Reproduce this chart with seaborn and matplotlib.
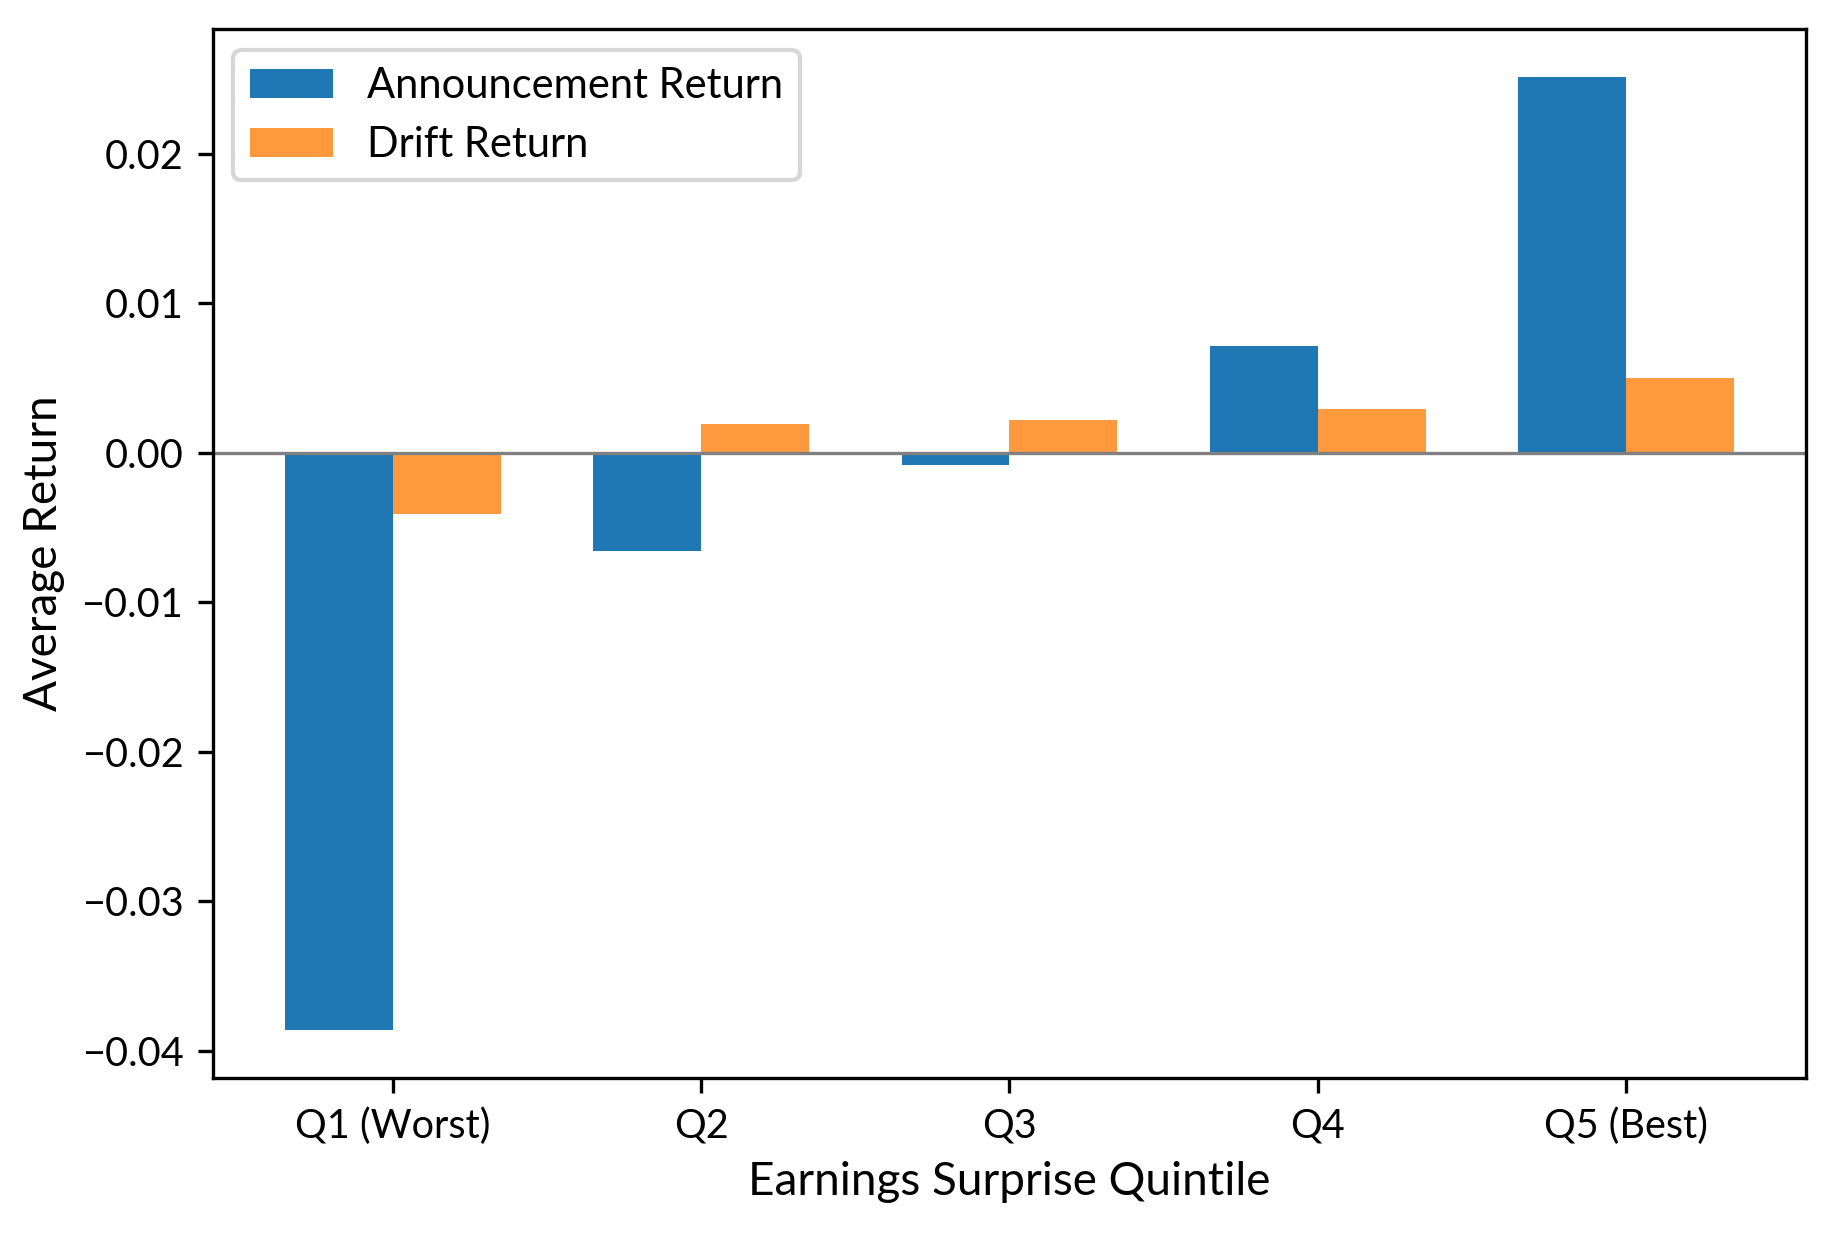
import pandas as pd
import matplotlib
matplotlib.use("Agg")
import matplotlib.pyplot as plt
import seaborn as sns

# Datos
quintiles = ["Q1 (Worst)", "Q2", "Q3", "Q4", "Q5 (Best)"]
announcement_ret = [-0.0386, -0.0066, -0.0008, 0.0071, 0.0251]
drift_ret = [-0.0041, 0.0019, 0.0022, 0.0029, 0.0050]
series_names = ["Announcement Return", "Drift Return"]
series_colors = ["#1f77b4", "#ff993e"]

df = pd.DataFrame({
    "Quintile": quintiles * 2,
    "Return": announcement_ret + drift_ret,
    "Series": [series_names[0]] * 5 + [series_names[1]] * 5,
})

plt.rcParams["font.family"] = ["Lato", "DejaVu Sans"]
plt.rcParams["font.size"] = 9.5

fig = plt.figure(figsize=(1834 / 300, 1234 / 300), dpi=300)
ax = fig.add_axes([0.1159, 0.1265, 0.8690, 0.8497])

sns.barplot(data=df, x="Quintile", y="Return", hue="Series",
            palette=series_colors, width=0.7, saturation=1,
            errorbar=None, ax=ax)

ax.axhline(0, color="gray", linewidth=0.8)
ax.set_xlim(-0.585, 4.585)
ax.set_ylim(-0.0418, 0.0283)
ax.set_xlabel("Earnings Surprise Quintile", fontsize=11)
ax.set_ylabel("Average Return", fontsize=11)
ax.legend(loc="upper left", title=None, fontsize=10)

fig.savefig("out.png", dpi=300)
